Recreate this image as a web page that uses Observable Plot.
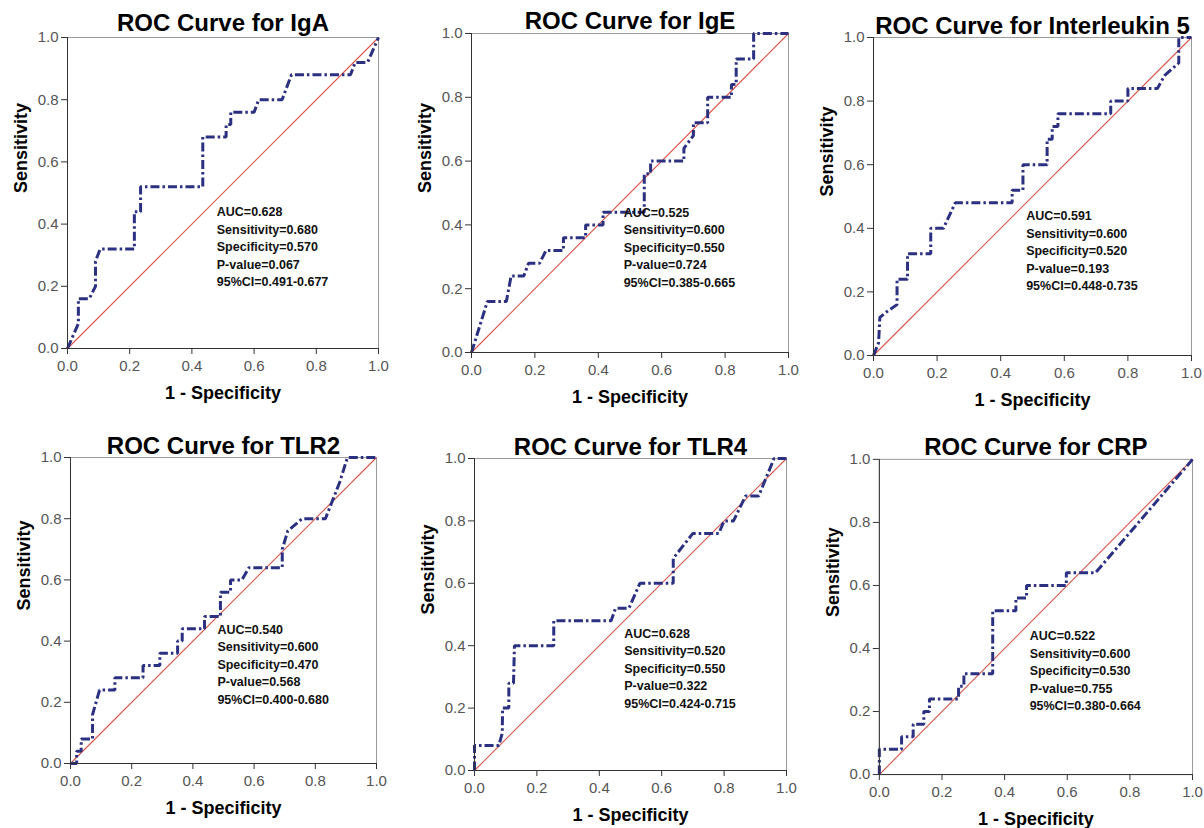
<!DOCTYPE html>
<html><head><meta charset="utf-8">
<script src="https://cdn.jsdelivr.net/npm/d3@7"></script>
<script src="https://cdn.jsdelivr.net/npm/@observablehq/plot@0.6"></script>
<style>
html,body{margin:0;padding:0;background:#fff;width:1204px;height:828px;overflow:hidden;position:relative;}
.panel{position:absolute;}
</style></head><body>
<script>
// ---- data ----
const markers = ["IgA", "IgE", "Interleukin 5", "TLR2", "TLR4", "CRP"];

const igaFPR = [0,0.035,0.035,0.07,0.09,0.09,0.105,0.215,0.215,0.235,0.235,0.435,0.435,0.51,0.51,0.525,0.525,0.6,0.615,0.69,0.72,0.91,0.925,0.965,1];
const igaTPR = [0,0.08,0.16,0.16,0.20,0.28,0.32,0.32,0.44,0.44,0.52,0.52,0.68,0.68,0.72,0.72,0.76,0.76,0.80,0.80,0.88,0.88,0.92,0.92,1];

const igeFPR = [0,0.05,0.11,0.125,0.165,0.18,0.215,0.235,0.29,0.29,0.36,0.36,0.415,0.415,0.545,0.545,0.565,0.565,0.67,0.67,0.70,0.70,0.745,0.745,0.82,0.82,0.835,0.835,0.89,0.89,1];
const igeTPR = [0,0.16,0.16,0.24,0.24,0.28,0.28,0.32,0.32,0.36,0.36,0.40,0.40,0.44,0.44,0.56,0.56,0.60,0.60,0.64,0.68,0.72,0.72,0.80,0.80,0.84,0.84,0.92,0.92,1,1];

const il5FPR = [0,0.016,0.02,0.045,0.074,0.074,0.107,0.107,0.18,0.18,0.22,0.257,0.436,0.436,0.47,0.47,0.546,0.546,0.562,0.562,0.58,0.58,0.746,0.746,0.80,0.80,0.893,0.915,0.96,0.96,1];
const il5TPR = [0,0.04,0.12,0.14,0.16,0.24,0.24,0.32,0.32,0.40,0.40,0.48,0.48,0.52,0.52,0.60,0.60,0.68,0.68,0.72,0.72,0.76,0.76,0.80,0.80,0.84,0.84,0.88,0.92,1,1];

const tlr2FPR = [0,0.02,0.02,0.035,0.035,0.072,0.072,0.095,0.145,0.145,0.237,0.237,0.292,0.292,0.35,0.35,0.365,0.365,0.438,0.438,0.49,0.49,0.523,0.523,0.56,0.583,0.692,0.692,0.71,0.757,0.833,0.88,0.905,1];
const tlr2TPR = [0,0,0.04,0.04,0.08,0.08,0.16,0.24,0.24,0.28,0.28,0.32,0.32,0.36,0.36,0.40,0.40,0.44,0.44,0.48,0.48,0.56,0.56,0.60,0.60,0.64,0.64,0.70,0.76,0.80,0.80,0.92,1,1];

const tlr4FPR = [0,0,0.078,0.089,0.09,0.11,0.11,0.125,0.128,0.254,0.254,0.438,0.452,0.495,0.53,0.637,0.637,0.70,0.783,0.80,0.83,0.869,0.911,0.96,1];
const tlr4TPR = [0,0.08,0.08,0.12,0.20,0.20,0.28,0.28,0.40,0.40,0.48,0.48,0.52,0.52,0.60,0.60,0.68,0.76,0.76,0.80,0.80,0.88,0.88,1,1];

const crpFPR = [0,0,0.071,0.071,0.108,0.108,0.142,0.142,0.16,0.16,0.253,0.253,0.27,0.27,0.362,0.362,0.436,0.436,0.47,0.47,0.597,0.597,0.69,1];
const crpTPR = [0,0.08,0.08,0.12,0.12,0.16,0.16,0.20,0.20,0.24,0.24,0.28,0.28,0.32,0.32,0.52,0.52,0.56,0.56,0.60,0.60,0.64,0.64,1];

const aucValues  = ["0.628", "0.525", "0.591", "0.540", "0.628", "0.522"];
const sensValues = ["0.680", "0.600", "0.600", "0.600", "0.520", "0.600"];
const specValues = ["0.570", "0.550", "0.520", "0.470", "0.550", "0.530"];
const pValues    = ["0.067", "0.724", "0.193", "0.568", "0.322", "0.755"];
const ciValues   = ["0.491-0.677", "0.385-0.665", "0.448-0.735", "0.400-0.680", "0.424-0.715", "0.380-0.664"];

const tickValues = [0, 0.2, 0.4, 0.6, 0.8, 1.0];
const chanceLine = [0, 1];

const fprList = [igaFPR, igeFPR, il5FPR, tlr2FPR, tlr4FPR, crpFPR];
const tprList = [igaTPR, igeTPR, il5TPR, tlr2TPR, tlr4TPR, crpTPR];

// ---- layout (pixels) ----
const frames = [
  {l: 67,  t: 37,  w: 311, h: 311, title: 7},
  {l: 471, t: 33,  w: 317, h: 319, title: 5},
  {l: 873, t: 37,  w: 318, h: 318, title: 4},
  {l: 70,  t: 457, w: 306, h: 306, title: 3.5},
  {l: 474, t: 458, w: 312, h: 312, title: 4},
  {l: 879, t: 459, w: 314, h: 316, title: 4}
];
const M = {left: 60, top: 45, right: 12, bottom: 60};
const FONT = "'Liberation Sans', Arial, Helvetica, sans-serif";
const annotX = 0.48, annotY = 0.465;

markers.forEach((name, i) => {
  const f = frames[i];
  const pts = fprList[i].map((x, k) => ({fpr: x, tpr: tprList[i][k]}));
  const stats = `AUC=${aucValues[i]}\nSensitivity=${sensValues[i]}\nSpecificity=${specValues[i]}\nP-value=${pValues[i]}\n95%CI=${ciValues[i]}`;
  const chart = Plot.plot({
    width: M.left + f.w + M.right,
    height: M.top + f.h + M.bottom,
    marginLeft: M.left, marginTop: M.top, marginRight: M.right, marginBottom: M.bottom,
    style: {fontFamily: FONT, background: "transparent", overflow: "visible"},
    x: {domain: [0, 1]},
    y: {domain: [0, 1]},
    marks: [
      Plot.frame({stroke: "#9a9a9a", strokeWidth: 1}),
      Plot.link([chanceLine], {x1: d => d[0], y1: d => d[0], x2: d => d[1], y2: d => d[1], stroke: "#d9534a", strokeWidth: 1.1, strokeLinecap: "butt"}),
      Plot.line(pts, {x: "fpr", y: "tpr", stroke: "#2b3081", strokeWidth: 3, strokeDasharray: "9,3,2.5,3", strokeLinecap: "butt", strokeLinejoin: "miter", curve: "linear"}),
      Plot.ruleX([0], {stroke: "#333", strokeWidth: 1}),
      Plot.ruleY([0], {stroke: "#333", strokeWidth: 1}),
      Plot.axisX(tickValues, {tickFormat: d3.format(".1f"), tickSize: 6, tickPadding: 6, fontSize: 15, stroke: "#333", fill: "#555", label: null}),
      Plot.axisY(tickValues, {tickFormat: d3.format(".1f"), tickSize: 6, tickPadding: 3, fontSize: 15, stroke: "#333", fill: "#555", label: null}),
      Plot.text([stats], {x: () => annotX, y: () => annotY, text: d => d, textAnchor: "start", lineAnchor: "top", lineHeight: 1.4, fontSize: 12.5, fontWeight: "bold", fill: "#111"}),
      Plot.text([`ROC Curve for ${name}`], {frameAnchor: "top", lineAnchor: "bottom", dy: -f.title, fontSize: 24, fontWeight: "bold", fill: "#000"}),
      Plot.text(["1 - Specificity"], {frameAnchor: "bottom", lineAnchor: "middle", dy: 45, fontSize: 18, fontWeight: "bold", fill: "#000"}),
      Plot.text(["Sensitivity"], {frameAnchor: "left", lineAnchor: "middle", rotate: -90, dx: -46, fontSize: 18, fontWeight: "bold", fill: "#000"})
    ]
  });
  const div = document.createElement("div");
  div.className = "panel";
  div.style.left = (f.l - M.left) + "px";
  div.style.top = (f.t - M.top) + "px";
  div.appendChild(chart);
  document.body.appendChild(div);
});
</script>
</body></html>
